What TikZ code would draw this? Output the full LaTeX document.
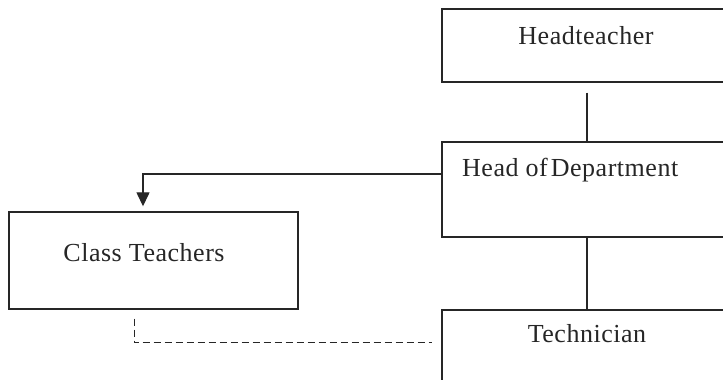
\documentclass[tikz,border=0pt]{standalone}
\usepackage{fontspec}
\setmainfont[LetterSpace=2]{Liberation Serif}
\usetikzlibrary{arrows.meta}
\begin{document}
\begin{tikzpicture}[x=1pt,y=1pt,
  box/.style={draw=black!85,line width=1.4pt,minimum width=#1,inner sep=0pt},
  lbl/.style={font=\fontsize{26}{30}\selectfont,inner sep=0pt,text=black!85},
  conn/.style={draw=black!85,line width=1.4pt}]
\useasboundingbox (0,0) rectangle (723,380);
\clip (0,0) rectangle (723,380);
\node[box=290pt,minimum height=73pt] (HT) at (587,334.5) {};
\node[box=290pt,minimum height=95pt] (HoD) at (587,190.5) {};
\node[box=289pt,minimum height=97pt] (CT) at (153.5,119.5) {};
\node[box=290pt,minimum height=95pt] (Tech) at (587,22.5) {};
\node[lbl,anchor=base] (tHT) at (586,335) {Headteacher};
\node[lbl,anchor=base west] (tHoD) at (462,203) {Head of\kern-4pt\ Department};
\node[lbl,anchor=base] (tCT) at (144,118) {Class Teachers};
\node[lbl,anchor=base] (tTech) at (587,37) {Technician};
\draw[conn,shorten <=10pt] (HT.south) -- (HoD.north);
\draw[conn] (HoD.south) -- (Tech.north);
\draw[conn,-{Triangle[width=13pt,length=14pt]},shorten >=5pt] ([yshift=15.5pt]HoD.west) -| ([xshift=-10.5pt]CT.north);
\draw[conn,line width=1pt,dash pattern=on 7pt off 4pt] ([xshift=-19.5pt,yshift=-9pt]CT.south) |- ([xshift=-9pt,yshift=14.5pt]Tech.west);
\end{tikzpicture}
\end{document}
